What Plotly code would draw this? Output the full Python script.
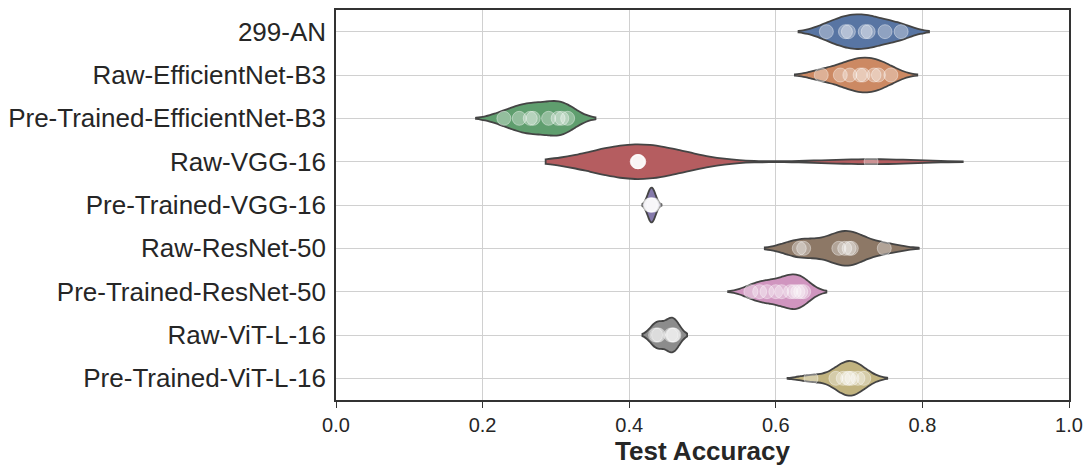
import plotly.graph_objects as go

categories = ["299-AN", "Raw-EfficientNet-B3", "Pre-Trained-EfficientNet-B3", "Raw-VGG-16",
              "Pre-Trained-VGG-16", "Raw-ResNet-50", "Pre-Trained-ResNet-50", "Raw-ViT-L-16",
              "Pre-Trained-ViT-L-16"]

acc_299_an = [0.669, 0.695, 0.699, 0.722, 0.726, 0.749, 0.771]
acc_raw_effnet = [0.662, 0.688, 0.701, 0.715, 0.719, 0.734, 0.740, 0.757]
acc_pre_effnet = [0.229, 0.250, 0.265, 0.269, 0.290, 0.303, 0.308, 0.316]
acc_raw_vgg = [0.411, 0.411, 0.412, 0.412, 0.412, 0.413, 0.413, 0.730]
acc_pre_vgg = [0.428, 0.429, 0.430, 0.430, 0.431, 0.432, 0.434]
acc_raw_resnet = [0.632, 0.638, 0.686, 0.694, 0.700, 0.703, 0.748]
acc_pre_resnet = [0.566, 0.578, 0.588, 0.600, 0.608, 0.620, 0.625, 0.630, 0.634, 0.638]
acc_raw_vit = [0.436, 0.438, 0.440, 0.457, 0.459, 0.460, 0.461]
acc_pre_vit = [0.648, 0.682, 0.692, 0.698, 0.700, 0.704, 0.712, 0.720]

series = [acc_299_an, acc_raw_effnet, acc_pre_effnet, acc_raw_vgg, acc_pre_vgg,
          acc_raw_resnet, acc_pre_resnet, acc_raw_vit, acc_pre_vit]
bandwidths = [0.019, 0.018, 0.019, 0.0625, 0.005, 0.0235, 0.0155, 0.009, 0.016]
colors = ["#5875A3", "#CC8963", "#5F9E6E", "#B55D60", "#857AAB",
          "#8D7866", "#D095BF", "#8C8C8C", "#C1B37F"]

fig = go.Figure()
for name, vals, bw, col in zip(categories, series, bandwidths, colors):
    fig.add_trace(go.Violin(
        x=vals, y=[name] * len(vals), orientation="h", name=name,
        bandwidth=bw, width=0.8, scalemode="width", spanmode="soft",
        fillcolor=col, opacity=1,
        line=dict(color="#444444", width=1.8),
        points="all", pointpos=0, jitter=0,
        marker=dict(color="rgba(255,255,255,0.33)", size=14,
                    line=dict(color="rgba(255,255,255,0.4)", width=1)),
        box_visible=False, meanline_visible=False,
        hoverinfo="x", showlegend=False,
    ))

fig.update_layout(
    width=1091, height=468,
    margin=dict(l=335, r=19, t=8, b=66),
    paper_bgcolor="white", plot_bgcolor="white",
    font=dict(family="Liberation Sans, Arial, sans-serif", color="#262626"),
    violinmode="overlay",
)
fig.update_xaxes(
    range=[0, 1], tickvals=[0, 0.2, 0.4, 0.6, 0.8, 1.0], tickformat=".1f",
    showgrid=True, gridcolor="#d0d0d0", gridwidth=1.4,
    showline=True, linecolor="#333333", linewidth=1.5, mirror=True,
    ticks="outside", ticklen=6, tickcolor="#333333",
    tickfont=dict(size=20),
    title=dict(text="<b>Test Accuracy</b>", font=dict(size=26), standoff=6),
    zeroline=False,
)
fig.update_yaxes(
    categoryorder="array", categoryarray=categories,
    showgrid=True, gridcolor="#d0d0d0", gridwidth=1.4,
    showline=True, linecolor="#333333", linewidth=1.5, mirror=True,
    ticks="", tickfont=dict(size=26), ticklabelstandoff=3,
    range=[len(categories) - 0.5, -0.5], autorange=False,
)

# remove the browser's default 8px page margin so the figure fills the window
fig.write_html("out.html", config={"displayModeBar": False},
               post_script="document.body.style.margin='0';document.body.style.overflow='hidden';")
